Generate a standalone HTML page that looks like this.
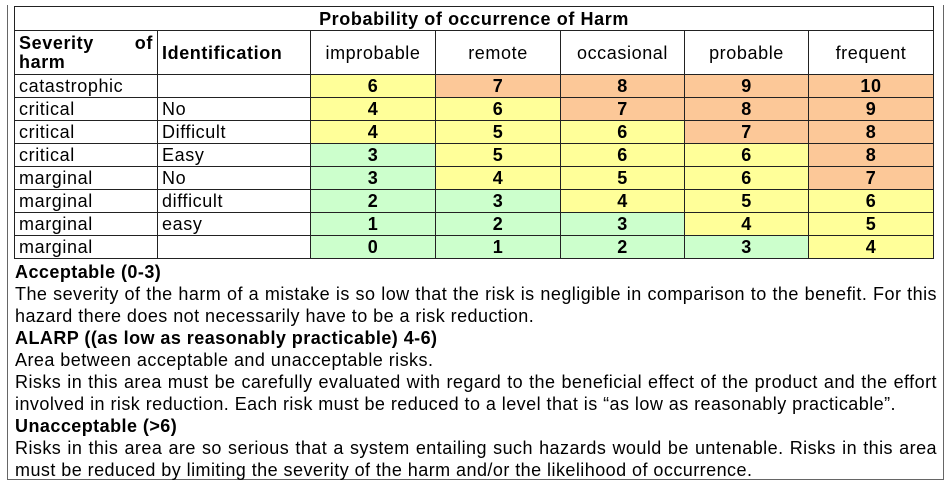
<!DOCTYPE html>
<html><head><meta charset="utf-8"><style>
body{margin:0;width:950px;height:485px;background:#fff;font-family:"Liberation Sans",Arial,sans-serif;color:#000;position:relative;overflow:hidden}
.box{position:absolute;left:7px;top:5px;width:935px;height:474px;border:1px solid #666;border-top:none}
table{position:absolute;left:14px;top:6px;border-collapse:collapse;table-layout:fixed;font-size:18px;letter-spacing:0.6px}
td{border:1.5px solid #222;padding:0 4px;height:22px;line-height:20px;white-space:nowrap;overflow:hidden}
td.c{text-align:center;font-weight:bold}
.y{background:#ffff99}.o{background:#fcc898}.g{background:#ccffcc}
.h td{height:43px;text-align:center}
.txt{position:absolute;left:15px;top:261px;width:922px;font-size:18px;letter-spacing:0.45px;line-height:22px;text-align:justify}
b{font-weight:bold}
</style></head><body>
<div class="box"></div>
<table>
<colgroup><col style="width:143px"><col style="width:153px"><col style="width:125px"><col style="width:125px"><col style="width:124px"><col style="width:124px"><col style="width:125px"></colgroup>
<tr><td colspan="7" style="text-align:center;font-weight:bold;height:23px">Probability of occurrence of Harm</td></tr>
<tr class="h"><td style="font-weight:bold;line-height:19px;white-space:normal;text-align:left"><span style="display:flex;justify-content:space-between"><span>Severity</span><span>of</span></span>harm</td><td style="font-weight:bold;text-align:left">Identification</td><td>improbable</td><td>remote</td><td>occasional</td><td>probable</td><td>frequent</td></tr>
<tr><td>catastrophic</td><td></td><td class="c y">6</td><td class="c o">7</td><td class="c o">8</td><td class="c o">9</td><td class="c o">10</td></tr>
<tr><td>critical</td><td>No</td><td class="c y">4</td><td class="c y">6</td><td class="c o">7</td><td class="c o">8</td><td class="c o">9</td></tr>
<tr><td>critical</td><td>Difficult</td><td class="c y">4</td><td class="c y">5</td><td class="c y">6</td><td class="c o">7</td><td class="c o">8</td></tr>
<tr><td>critical</td><td>Easy</td><td class="c g">3</td><td class="c y">5</td><td class="c y">6</td><td class="c y">6</td><td class="c o">8</td></tr>
<tr><td>marginal</td><td>No</td><td class="c g">3</td><td class="c y">4</td><td class="c y">5</td><td class="c y">6</td><td class="c o">7</td></tr>
<tr><td>marginal</td><td>difficult</td><td class="c g">2</td><td class="c g">3</td><td class="c y">4</td><td class="c y">5</td><td class="c y">6</td></tr>
<tr><td>marginal</td><td>easy</td><td class="c g">1</td><td class="c g">2</td><td class="c g">3</td><td class="c y">4</td><td class="c y">5</td></tr>
<tr><td>marginal</td><td></td><td class="c g">0</td><td class="c g">1</td><td class="c g">2</td><td class="c g">3</td><td class="c y">4</td></tr>
</table>
<div class="txt">
<b>Acceptable (0-3)</b><br>
The severity of the harm of a mistake is so low that the risk is negligible in comparison to the benefit. For this hazard there does not necessarily have to be a risk reduction.<br>
<b>ALARP ((as low as reasonably practicable) 4-6)</b><br>
Area between acceptable and unacceptable risks.<br>
Risks in this area must be carefully evaluated with regard to the beneficial effect of the product and the effort involved in risk reduction. Each risk must be reduced to a level that is “as low as reasonably practicable”.<br>
<b>Unacceptable (&gt;6)</b><br>
Risks in this area are so serious that a system entailing such hazards would be untenable. Risks in this area must be reduced by limiting the severity of the harm and/or the likelihood of occurrence.
</div>
</body></html>
